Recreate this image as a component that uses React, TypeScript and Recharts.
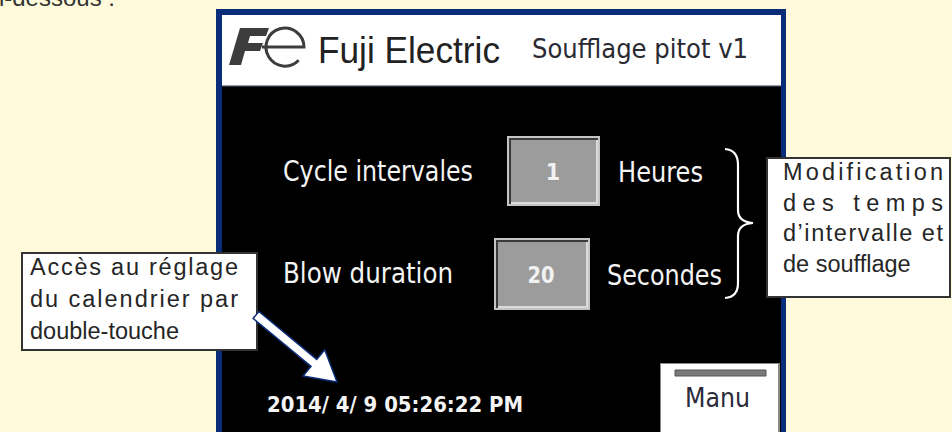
import React from "react"
import { ComposedChart, XAxis, YAxis, Scatter, ReferenceArea, ReferenceDot } from "recharts"

const W = 952
const H = 432

// content
const INTRO = "ci-dessous :"
const BRAND = "Fuji Electric"
const SCREEN_TITLE = "Soufflage pitot v1"
const FIELD_NAMES = ["Cycle intervales", "Blow duration"]
const FIELD_VALUES = [1, 20]
const FIELD_UNITS = ["Heures", "Secondes"]
const CLOCK_TEXT = "2014/ 4/ 9 05:26:22 PM"
const BUTTON_TEXT = "Manu"
const NOTE_TIMES = ["Modification", "des temps", "d\u2019intervalle et", "de soufflage"]
const NOTE_CLOCK = ["Accès au réglage", "du calendrier par", "double-touche"]

const YELLOW_BG = "#FFFADC"
const NAVY = "#0a2d7a"
const FONT_HMI = "'DejaVu Sans Condensed', 'DejaVu Sans', sans-serif"
const FONT_DOC = "'Liberation Sans', Arial, sans-serif"

type TextStyle = { font: string; size: number; fill: string; weight?: number; anchor?: string; adjust?: string }

const STYLES: Record<string, TextStyle> = {
  intro: { font: FONT_DOC, size: 24, fill: "#333", anchor: "end" },
  brand: { font: FONT_DOC, size: 36, fill: "#222", adjust: "spacingAndGlyphs" },
  title: { font: FONT_HMI, size: 26, fill: "#2a2a33", adjust: "spacingAndGlyphs" },
  label: { font: FONT_HMI, size: 28, fill: "#f4f4f4", adjust: "spacingAndGlyphs" },
  value: { font: FONT_HMI, size: 23, fill: "#f2f2f2", weight: 700, anchor: "middle", adjust: "spacingAndGlyphs" },
  clock: { font: FONT_HMI, size: 22, fill: "#f4f4f4", weight: 700, adjust: "spacingAndGlyphs" },
  button: { font: FONT_HMI, size: 27, fill: "#2b2b3a", adjust: "spacingAndGlyphs" },
  note: { font: FONT_DOC, size: 23.5, fill: "#262626", adjust: "spacing" },
}

// layout of the two entry rows: [x, baseline, width]
const ROWS = [
  { label: [283, 181, 190], box: [507, 600, 136, 206], value: [553, 180, 0], unit: [618, 182, 85] },
  { label: [283, 283, 170], box: [494, 590, 238, 310], value: [541, 283, 27], unit: [607, 285, 115] },
]

const textRows: any[] = [
  { x: 115, y: 6, text: INTRO, kind: "intro" },
  { x: 318, y: 63, text: BRAND, kind: "brand", len: 182 },
  { x: 532, y: 58, text: SCREEN_TITLE, kind: "title", len: 216 },
  { x: 267, y: 412, text: CLOCK_TEXT, kind: "clock", len: 256 },
  { x: 685, y: 407, text: BUTTON_TEXT, kind: "button", len: 65 },
]
ROWS.forEach((r, i) => {
  textRows.push({ x: r.label[0], y: r.label[1], text: FIELD_NAMES[i], kind: "label", len: r.label[2] })
  textRows.push({ x: r.value[0], y: r.value[1], text: String(FIELD_VALUES[i]), kind: "value", len: r.value[2] || undefined })
  textRows.push({ x: r.unit[0], y: r.unit[1], text: FIELD_UNITS[i], kind: "label", len: r.unit[2] })
})
NOTE_TIMES.forEach((t, i) => {
  textRows.push({ x: 783, y: 180 + i * 30.5, text: t, kind: "note", len: i < 3 ? 160 : undefined })
})
NOTE_CLOCK.forEach((t, i) => {
  textRows.push({ x: 30, y: 275 + i * 32, text: t, kind: "note", len: i < 2 ? 208 : undefined })
})

function TextMark(props: any) {
  const { cx, cy, payload } = props
  const s = STYLES[payload.kind]
  return (
    <text
      x={cx}
      y={cy}
      fontFamily={s.font}
      fontSize={s.size}
      fontWeight={s.weight || 400}
      fill={s.fill}
      textAnchor={s.anchor || "start"}
      textLength={payload.len}
      lengthAdjust={payload.len ? s.adjust : undefined}
    >
      {payload.text}
    </text>
  )
}

function FujiLogo(props: any) {
  const { cx, cy } = props
  const f = [
    [1, 37], [12, 0], [41, 0], [38, 8], [22, 8], [20, 15], [35, 15], [32, 23], [17, 23], [13, 37],
  ]
  const ex = cx + 57
  const ey = cy + 19
  const r = 19
  return (
    <g>
      <polygon points={f.map(([a, b]) => `${cx + a},${cy + b}`).join(" ")} fill="#3d3d3d" />
      <path
        d={`M ${ex - r - 4} ${ey} L ${ex + r} ${ey} A ${r} ${r} 0 1 0 ${ex + r * 0.72} ${ey + r * 0.7}`}
        fill="none"
        stroke="#3d3d3d"
        strokeWidth={3}
      />
    </g>
  )
}

function Brace(props: any) {
  const { cx, cy } = props
  const x = cx
  const y = cy
  const d = `M ${x} ${y} Q ${x + 13} ${y + 1} ${x + 13} ${y + 16} L ${x + 13} ${y + 61} Q ${x + 13} ${y + 73} ${x + 28} ${y + 74} Q ${x + 13} ${y + 75} ${x + 13} ${y + 87} L ${x + 13} ${y + 134} Q ${x + 13} ${y + 148} ${x} ${y + 149}`
  return <path d={d} fill="none" stroke="#ffffff" strokeWidth={2.2} />
}

function Arrow(props: any) {
  const { cx, cy } = props
  const sx = cx - 81
  const sy = cy - 67
  const len = Math.hypot(cx - sx, cy - sy)
  const ux = (cx - sx) / len
  const uy = (cy - sy) / len
  const nx = -uy
  const ny = ux
  const bx = cx - 30 * ux
  const by = cy - 30 * uy
  const pts = [
    [sx - 4.5 * nx, sy - 4.5 * ny],
    [bx - 4.5 * nx, by - 4.5 * ny],
    [bx - 17 * nx, by - 17 * ny],
    [cx, cy],
    [bx + 17 * nx, by + 17 * ny],
    [bx + 4.5 * nx, by + 4.5 * ny],
    [sx + 4.5 * nx, sy + 4.5 * ny],
  ]
  return <polygon points={pts.map((p) => p.join(",")).join(" ")} fill="#ffffff" stroke={NAVY} strokeWidth={1.5} />
}

export default function App() {
  return (
    <div style={{ position: "absolute", left: 0, top: 0, width: W, height: H, background: YELLOW_BG }}>
      <ComposedChart width={W} height={H} margin={{ top: 0, right: 0, bottom: 0, left: 0 }}>
        <XAxis type="number" dataKey="x" domain={[0, W]} allowDataOverflow hide />
        <YAxis type="number" dataKey="y" domain={[0, H]} allowDataOverflow reversed hide />

        {/* HMI frame */}
        <ReferenceArea x1={216} x2={786} y1={9} y2={H} fill={NAVY} fillOpacity={1} stroke="none" />
        <ReferenceArea x1={222} x2={781} y1={15} y2={85} fill="#ffffff" fillOpacity={1} stroke="none" />
        <ReferenceArea x1={222} x2={781} y1={85} y2={86.5} fill="#9a9a9a" fillOpacity={1} stroke="none" />
        <ReferenceArea x1={222} x2={781} y1={86.5} y2={H} fill="#000000" fillOpacity={1} stroke="none" />

        {/* entry boxes */}
        {ROWS.map((r, i) => {
          const [x1, x2, y1, y2] = r.box
          return [
            <ReferenceArea key={`o${i}`} x1={x1} x2={x2} y1={y1} y2={y2} fill="#c4c4c4" fillOpacity={1} stroke="none" />,
            <ReferenceArea key={`d${i}`} x1={x1 + 2} x2={x2 - 2} y1={y1 + 2} y2={y2 - 2} fill="#3a3a3a" fillOpacity={1} stroke="none" />,
            <ReferenceArea key={`h${i}`} x1={x1 + 4} x2={x2 - 2} y1={y1 + 4} y2={y2 - 2} fill="#dadada" fillOpacity={1} stroke="none" />,
            <ReferenceArea key={`f${i}`} x1={x1 + 4} x2={x2 - 4} y1={y1 + 4} y2={y2 - 4} fill="#9c9c9c" fillOpacity={1} stroke="none" />,
          ]
        })}

        {/* Manu button */}
        <ReferenceArea x1={660} x2={780} y1={363} y2={H} fill="#8a8a8a" fillOpacity={1} stroke="none" />
        <ReferenceArea x1={661} x2={778} y1={364} y2={H} fill="#ffffff" fillOpacity={1} stroke="none" />
        <ReferenceArea x1={675} x2={766} y1={370} y2={376} fill="#7a7a7a" fillOpacity={1} stroke="#555" strokeWidth={1} />

        {/* callouts */}
        <ReferenceArea x1={767} x2={950} y1={158} y2={297} fill="#ffffff" fillOpacity={1} stroke="#333" strokeWidth={2} />
        <ReferenceArea x1={22} x2={257} y1={253} y2={350} fill="#ffffff" fillOpacity={1} stroke="#333" strokeWidth={2} />

        <ReferenceDot x={228} y={28} r={1} shape={FujiLogo} />
        <ReferenceDot x={725} y={149} r={1} shape={Brace} />
        <ReferenceDot x={337} y={382} r={1} shape={Arrow} />

        <Scatter data={textRows} dataKey="y" shape={TextMark} isAnimationActive={false} />
      </ComposedChart>
    </div>
  )
}
